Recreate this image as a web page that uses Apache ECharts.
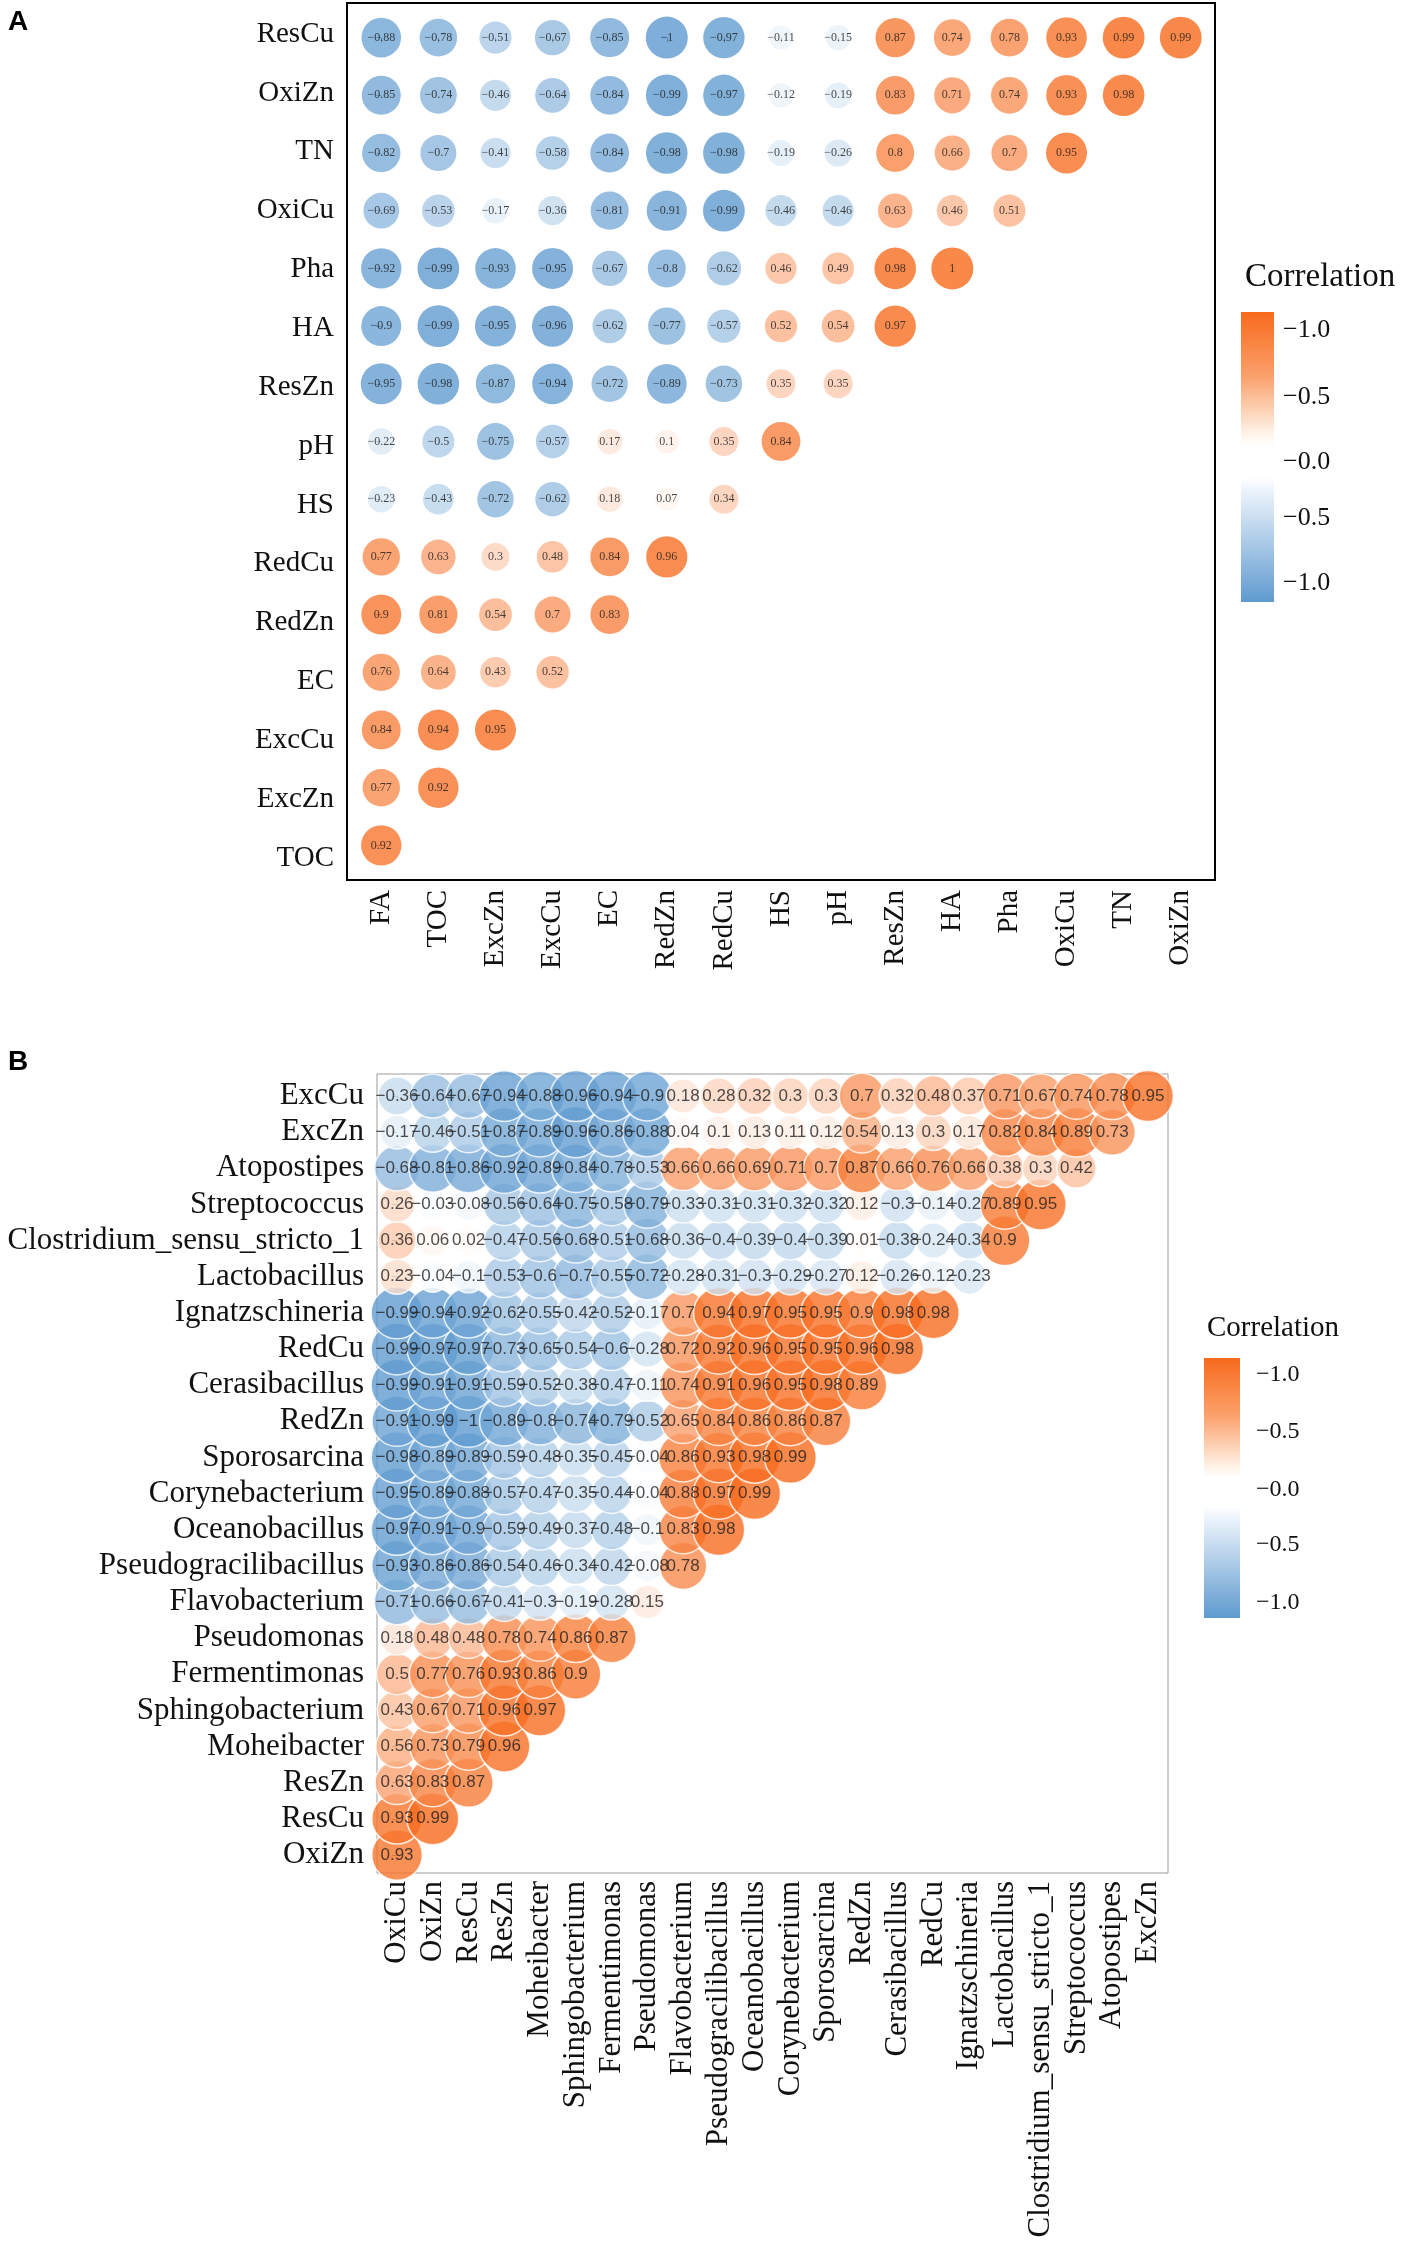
<!DOCTYPE html>
<html><head><meta charset="utf-8">
<script src="https://cdn.jsdelivr.net/npm/echarts@6/dist/echarts.min.js"></script>
<style>html,body{margin:0;padding:0;background:#fff}#c{width:1406px;height:2255px}</style>
</head><body><div id="c"></div>
<script>
// ---------- Panel A ----------
const rowsA = ['ResCu','OxiZn','TN','OxiCu','Pha','HA','ResZn','pH','HS','RedCu','RedZn','EC','ExcCu','ExcZn','TOC'];
const colsA = ['FA','TOC','ExcZn','ExcCu','EC','RedZn','RedCu','HS','pH','ResZn','HA','Pha','OxiCu','TN','OxiZn'];
const valuesA = [
  [-0.88,-0.78,-0.51,-0.67,-0.85,-1,-0.97,-0.11,-0.15,0.87,0.74,0.78,0.93,0.99,0.99],
  [-0.85,-0.74,-0.46,-0.64,-0.84,-0.99,-0.97,-0.12,-0.19,0.83,0.71,0.74,0.93,0.98],
  [-0.82,-0.7,-0.41,-0.58,-0.84,-0.98,-0.98,-0.19,-0.26,0.8,0.66,0.7,0.95],
  [-0.69,-0.53,-0.17,-0.36,-0.81,-0.91,-0.99,-0.46,-0.46,0.63,0.46,0.51],
  [-0.92,-0.99,-0.93,-0.95,-0.67,-0.8,-0.62,0.46,0.49,0.98,1],
  [-0.9,-0.99,-0.95,-0.96,-0.62,-0.77,-0.57,0.52,0.54,0.97],
  [-0.95,-0.98,-0.87,-0.94,-0.72,-0.89,-0.73,0.35,0.35],
  [-0.22,-0.5,-0.75,-0.57,0.17,0.1,0.35,0.84],
  [-0.23,-0.43,-0.72,-0.62,0.18,0.07,0.34],
  [0.77,0.63,0.3,0.48,0.84,0.96],
  [0.9,0.81,0.54,0.7,0.83],
  [0.76,0.64,0.43,0.52],
  [0.84,0.94,0.95],
  [0.77,0.92],
  [0.92]
];
// ---------- Panel B ----------
const rowsB = ['ExcCu','ExcZn','Atopostipes','Streptococcus','Clostridium_sensu_stricto_1','Lactobacillus','Ignatzschineria','RedCu','Cerasibacillus','RedZn','Sporosarcina','Corynebacterium','Oceanobacillus','Pseudogracilibacillus','Flavobacterium','Pseudomonas','Fermentimonas','Sphingobacterium','Moheibacter','ResZn','ResCu','OxiZn'];
const colsB = ['OxiCu','OxiZn','ResCu','ResZn','Moheibacter','Sphingobacterium','Fermentimonas','Pseudomonas','Flavobacterium','Pseudogracilibacillus','Oceanobacillus','Corynebacterium','Sporosarcina','RedZn','Cerasibacillus','RedCu','Ignatzschineria','Lactobacillus','Clostridium_sensu_stricto_1','Streptococcus','Atopostipes','ExcZn'];
const valuesB = [
  [-0.36,-0.64,-0.67,-0.94,-0.88,-0.96,-0.94,-0.9,0.18,0.28,0.32,0.3,0.3,0.7,0.32,0.48,0.37,0.71,0.67,0.74,0.78,0.95],
  [-0.17,-0.46,-0.51,-0.87,-0.89,-0.96,-0.86,-0.88,0.04,0.1,0.13,0.11,0.12,0.54,0.13,0.3,0.17,0.82,0.84,0.89,0.73],
  [-0.68,-0.81,-0.86,-0.92,-0.89,-0.84,-0.78,-0.53,0.66,0.66,0.69,0.71,0.7,0.87,0.66,0.76,0.66,0.38,0.3,0.42],
  [0.26,-0.03,-0.08,-0.56,-0.64,-0.75,-0.58,-0.79,-0.33,-0.31,-0.31,-0.32,-0.32,0.12,-0.3,-0.14,-0.27,0.89,0.95],
  [0.36,0.06,0.02,-0.47,-0.56,-0.68,-0.51,-0.68,-0.36,-0.4,-0.39,-0.4,-0.39,0.01,-0.38,-0.24,-0.34,0.9],
  [0.23,-0.04,-0.1,-0.53,-0.6,-0.7,-0.55,-0.72,-0.28,-0.31,-0.3,-0.29,-0.27,0.12,-0.26,-0.12,-0.23],
  [-0.99,-0.94,-0.92,-0.62,-0.55,-0.42,-0.52,-0.17,0.7,0.94,0.97,0.95,0.95,0.9,0.98,0.98],
  [-0.99,-0.97,-0.97,-0.73,-0.65,-0.54,-0.6,-0.28,0.72,0.92,0.96,0.95,0.95,0.96,0.98],
  [-0.99,-0.91,-0.91,-0.59,-0.52,-0.38,-0.47,-0.11,0.74,0.91,0.96,0.95,0.98,0.89],
  [-0.91,-0.99,-1,-0.89,-0.8,-0.74,-0.79,-0.52,0.65,0.84,0.86,0.86,0.87],
  [-0.98,-0.89,-0.89,-0.59,-0.48,-0.35,-0.45,-0.04,0.86,0.93,0.98,0.99],
  [-0.95,-0.89,-0.88,-0.57,-0.47,-0.35,-0.44,-0.04,0.88,0.97,0.99],
  [-0.97,-0.91,-0.9,-0.59,-0.49,-0.37,-0.48,-0.1,0.83,0.98],
  [-0.93,-0.86,-0.86,-0.54,-0.46,-0.34,-0.42,-0.08,0.78],
  [-0.71,-0.66,-0.67,-0.41,-0.3,-0.19,-0.28,0.15],
  [0.18,0.48,0.48,0.78,0.74,0.86,0.87],
  [0.5,0.77,0.76,0.93,0.86,0.9],
  [0.43,0.67,0.71,0.96,0.97],
  [0.56,0.73,0.79,0.96],
  [0.63,0.83,0.87],
  [0.93,0.99],
  [0.93]
];
const legendTicks = ['−1.0','−0.5','−0.0','−0.5','−1.0'];
const legendTitle = 'Correlation';

// ---------- build ----------
const BLUE = '#5E9ACF', ORANGE = '#F76A1C';
function fmt(v){ return (v < 0 ? '−' : '') + String(Math.abs(v)); }
function toPoints(vals){
  const pts = [];
  for (let r = vals.length - 1; r >= 0; r--) {
    for (let c = 0; c < vals[r].length; c++) pts.push([c, r, vals[r][c]]);
  }
  return pts;
}
const idx = n => Array.from({length:n}, (_, i) => i);
const SERIF = 'Liberation Serif';

function xAxisOf(grid, cols, xr, tickColor, fs, margin){
  return {
    gridIndex: grid, type: 'value', min: xr[0], max: xr[1],
    splitLine: {show:false}, axisLine: {show:false},
    axisTick: {show:true, customValues: idx(cols.length), length:5, lineStyle:{color:tickColor}},
    axisLabel: {customValues: idx(cols.length), rotate: 90, margin: margin,
      formatter: v => cols[Math.round(v)], fontFamily: SERIF, fontSize: fs, color: '#111'}
  };
}
function yAxisOf(grid, rows, yr, tickColor, fs, showTicks, showLabels){
  return {
    gridIndex: grid, type: 'value', min: yr[0], max: yr[1], inverse: true, position: 'left',
    splitLine: {show:false}, axisLine: {show:false},
    axisTick: {show:showTicks, customValues: idx(rows.length), length:5, lineStyle:{color:tickColor}},
    axisLabel: {show:showLabels, customValues: idx(rows.length), margin: 13,
      formatter: v => rows[Math.round(v)], fontFamily: SERIF, fontSize: fs, color: '#111'}
  };
}

function legend(x, y, w, h, titleX, titleY, titleSize, labX, labYs, labSize){
  const els = [
    {type:'text', x: titleX, y: titleY, style:{text: legendTitle, font: titleSize + 'px "Liberation Serif"', fill:'#111', verticalAlign:'middle'}},
    {type:'rect', shape:{x, y, width:w, height:h}, style:{fill: new echarts.graphic.LinearGradient(0,0,0,1,[
      {offset:0, color: ORANGE},{offset:0.22, color:'#FBA06B'},{offset:0.42, color:'#FFF3E8'},
      {offset:0.46, color:'#FFFFFF'},{offset:0.57, color:'#FFFFFF'},{offset:0.61, color:'#EEF5FC'},
      {offset:0.8, color:'#A9C9E6'},{offset:1, color: BLUE}])}}
  ];
  labYs.forEach((ly, i) => els.push({type:'text', x: labX, y: ly,
    style:{text: legendTicks[i], font: labSize + 'px "Liberation Serif"', fill:'#111', verticalAlign:'middle'}}));
  return els;
}

const chart = echarts.init(document.getElementById('c'), null, {renderer:'canvas', width:1406, height:2255});
chart.setOption({
  backgroundColor: '#fff',
  animation: false,
  grid: [
    {left: 347, top: 3, width: 868, height: 877, show: true, borderColor: '#000', borderWidth: 2, backgroundColor: 'transparent'},
    {left: 377, top: 1074, width: 791, height: 799, show: true, borderColor: '#9a9a9a', borderWidth: 1, backgroundColor: 'transparent'}
  ],
  xAxis: [
    xAxisOf(0, colsA, [-0.6, 14.6], '#333', 29, 10),
    xAxisOf(1, colsB, [-0.56, 21.56], '#888', 31, 8)
  ],
  yAxis: [
    yAxisOf(0, rowsA, [-0.6, 14.6], '#333', 29, true, false),
    // panel A's row labels sit on a slightly wider spacing than its rows, as in the source figure
    yAxisOf(0, rowsA, [-0.527, 14.37], '#333', 29, false, true),
    yAxisOf(1, rowsB, [-0.61, 21.5], '#888', 31, true, true)
  ],
  visualMap: [
    {type:'continuous', show:false, seriesIndex:0, dimension:2, min:-1, max:1, inRange:{color:[BLUE,'#FFFFFF',ORANGE]}},
    {type:'continuous', show:false, seriesIndex:1, dimension:2, min:-1, max:1, inRange:{color:[BLUE,'#FFFFFF',ORANGE]}}
  ],
  series: [
    {type:'scatter', xAxisIndex:0, yAxisIndex:0, data: toPoints(valuesA),
     symbolSize: d => 22 + 20 * Math.abs(d[2]),
     emphasis:{disabled:true},
     label:{show:true, position:'inside', formatter: p => fmt(p.data[2]), fontFamily: SERIF, fontSize: 12, color:'#1a1a1a'}},
    {type:'scatter', xAxisIndex:1, yAxisIndex:2, data: toPoints(valuesB),
     symbolSize: d => 30 + 22 * Math.abs(d[2]),
     itemStyle:{borderColor:'#fff', borderWidth:1.5},
     emphasis:{disabled:true},
     label:{show:true, position:'inside', formatter: p => fmt(p.data[2]), fontFamily:'Liberation Sans', fontSize: 17, color:'#222'}}
  ],
  graphic: [
    {type:'text', x: 8, y: 8, style:{text:'A', font:'bold 28px "Liberation Sans"', fill:'#000'}},
    {type:'text', x: 8, y: 1048, style:{text:'B', font:'bold 28px "Liberation Sans"', fill:'#000'}},
    ...legend(1241, 312, 33, 290, 1245, 277, 33, 1283, [330,397,462,518,583], 26),
    ...legend(1204, 1358, 36, 260, 1207, 1328, 29, 1256, [1375,1432,1490,1545,1603], 24)
  ]
});
</script></body></html>
